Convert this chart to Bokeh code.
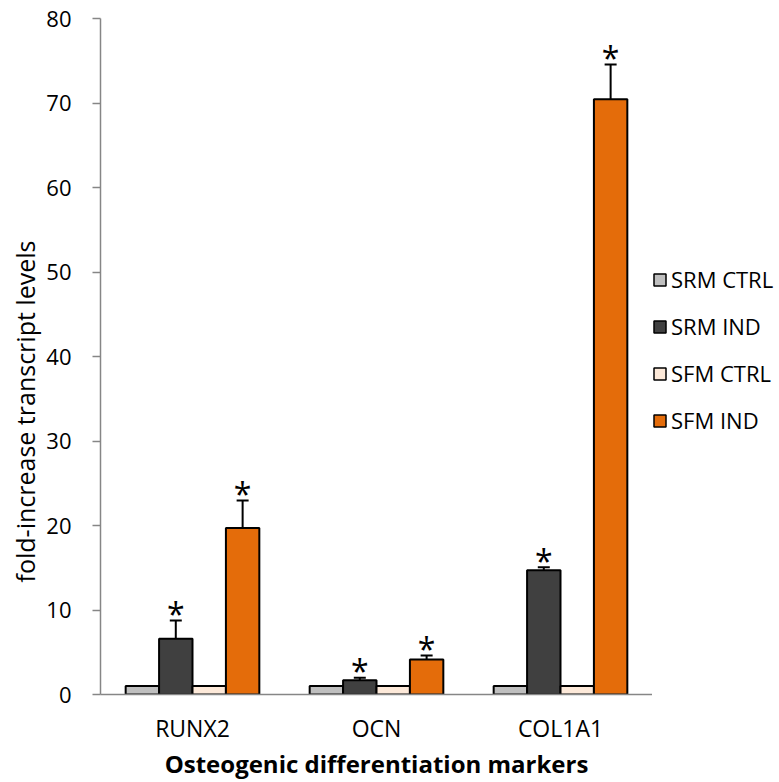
import math
import numpy as np
from bokeh.plotting import figure
from bokeh.layouts import row
from bokeh.models import (ColumnDataSource, FactorRange, FixedTicker, Whisker, TeeHead,
                          Legend, LegendItem, Label, Range1d)
from bokeh.transform import dodge
from bokeh.core.properties import value
from bokeh.embed import file_html
from bokeh.resources import INLINE

categories = ["RUNX2", "OCN", "COL1A1"]
series = ["SRM CTRL", "SRM IND", "SFM CTRL", "SFM IND"]
srm_ctrl = [1.0, 1.0, 1.0]
srm_ind = [6.6, 1.7, 14.7]
srm_ind_err = [2.15, 0.27, 0.37]
sfm_ctrl = [1.0, 1.0, 1.0]
sfm_ind = [19.7, 4.14, 70.45]
sfm_ind_err = [3.25, 0.47, 4.1]
y_ticks = [0, 10, 20, 30, 40, 50, 60, 70, 80]
colors = ["#BFBFBF", "#404040", "#FDE9D9", "#E46C0A"]

FONT = "Open Sans"
H = 782
FRAME_TOP = 18
BOTTOM = 87
FRAME_BOTTOM = H - BOTTOM


def strip_figure(width):
    f = figure(width=width, height=H, x_range=Range1d(0, 1), y_range=Range1d(0, 1),
               output_backend="svg", toolbar_location=None, title_location=None,
               min_border_left=0, min_border_right=0,
               min_border_top=FRAME_TOP, min_border_bottom=BOTTOM)
    f.axis.visible = False
    f.grid.visible = False
    f.outline_line_color = None
    return f


# left strip carrying the y-axis title
yfig = strip_figure(43)
yfig.add_layout(Label(x=24, y=FRAME_BOTTOM - 412, x_units="screen", y_units="screen",
                      angle=math.pi / 2,
                      text="fold-increase transcript levels", text_font=FONT,
                      text_font_size="25px", text_align="center", text_baseline="middle",
                      text_color="black"))

p = figure(x_range=FactorRange(*categories, range_padding=0), y_range=(0, 80),
           width=609, height=H, output_backend="svg", toolbar_location=None,
           min_border_left=56, min_border_right=0, min_border_top=FRAME_TOP,
           min_border_bottom=BOTTOM)
p.outline_line_color = None
p.xgrid.grid_line_color = None
p.ygrid.grid_line_color = None

src = ColumnDataSource(dict(cat=categories, srm_ctrl=srm_ctrl, srm_ind=srm_ind,
                            sfm_ctrl=sfm_ctrl, sfm_ind=sfm_ind,
                            srm_up=[v + e for v, e in zip(srm_ind, srm_ind_err)],
                            srm_lo=[v - e for v, e in zip(srm_ind, srm_ind_err)],
                            sfm_up=[v + e for v, e in zip(sfm_ind, sfm_ind_err)],
                            sfm_lo=[v - e for v, e in zip(sfm_ind, sfm_ind_err)],
                            star=["*"] * 3))

bw = 0.1816
offsets = [-1.5 * bw, -0.5 * bw, 0.5 * bw, 1.5 * bw]
fields = ["srm_ctrl", "srm_ind", "sfm_ctrl", "sfm_ind"]
for f, off, c in zip(fields, offsets, colors):
    p.vbar(x=dodge("cat", off, range=p.x_range), top=f, width=bw, source=src,
           fill_color=c, line_color="black", line_width=2)

for up, lo, off in [("srm_up", "srm_lo", offsets[1]), ("sfm_up", "sfm_lo", offsets[3])]:
    w = Whisker(base=dodge("cat", off, range=p.x_range), upper=up, lower=lo, source=src,
                line_color="black", line_width=2,
                upper_head=TeeHead(size=12, line_width=2, line_color="black"),
                lower_head=TeeHead(size=12, line_width=2, line_color="black"))
    p.add_layout(w)
    p.text(x=dodge("cat", off, range=p.x_range), y=up, text="star", source=src,
           text_font=value(FONT), text_font_size="32px", text_align="center",
           text_baseline="alphabetic", y_offset=-7, text_color="black")

p.yaxis.ticker = FixedTicker(ticks=y_ticks)
for ax in (p.xaxis[0], p.yaxis[0]):
    ax.axis_line_color = "#868686"
    ax.axis_line_width = 1.5
    ax.major_tick_line_color = "#868686"
    ax.major_tick_line_width = 1.5
    ax.minor_tick_line_color = None
    ax.major_label_text_font = FONT
    ax.major_label_text_color = "black"
p.yaxis.major_label_text_font_size = "22px"
p.xaxis.major_label_text_font_size = "23px"
p.yaxis.major_tick_out = 8
p.yaxis.major_tick_in = 0
p.yaxis.major_label_standoff = 21
p.xaxis.major_tick_out = 0
p.xaxis.major_tick_in = 0
p.xaxis.major_label_standoff = 17
p.xaxis.axis_label = "Osteogenic differentiation markers"
p.xaxis.axis_label_text_font = FONT
p.xaxis.axis_label_text_font_size = "24px"
p.xaxis.axis_label_text_font_style = "bold"
p.xaxis.axis_label_text_color = "black"
p.xaxis.axis_label_standoff = 0

# right strip carrying the legend (swatches styled like the bars; no data drawn)
lfig = strip_figure(127)
leg_src = ColumnDataSource(dict(x=np.array([np.nan]), top=np.array([np.nan])))
leg_renderers = [lfig.vbar(x="x", top="top", width=0.5, source=leg_src,
                           fill_color=c, line_color="black", line_width=1.5) for c in colors]
legend = Legend(items=[LegendItem(label=s, renderers=[r]) for s, r in zip(series, leg_renderers)],
                location=(0, FRAME_BOTTOM - 436), orientation="vertical",
                label_text_font=FONT, label_text_font_size="22px", label_text_color="black",
                glyph_width=15, glyph_height=15, label_height=15, spacing=17,
                padding=0, margin=0, label_standoff=4,
                border_line_alpha=0, background_fill_alpha=0)
lfig.add_layout(legend)

layout = row(yfig, p, lfig)
open("out.html", "w").write(file_html(layout, INLINE))
